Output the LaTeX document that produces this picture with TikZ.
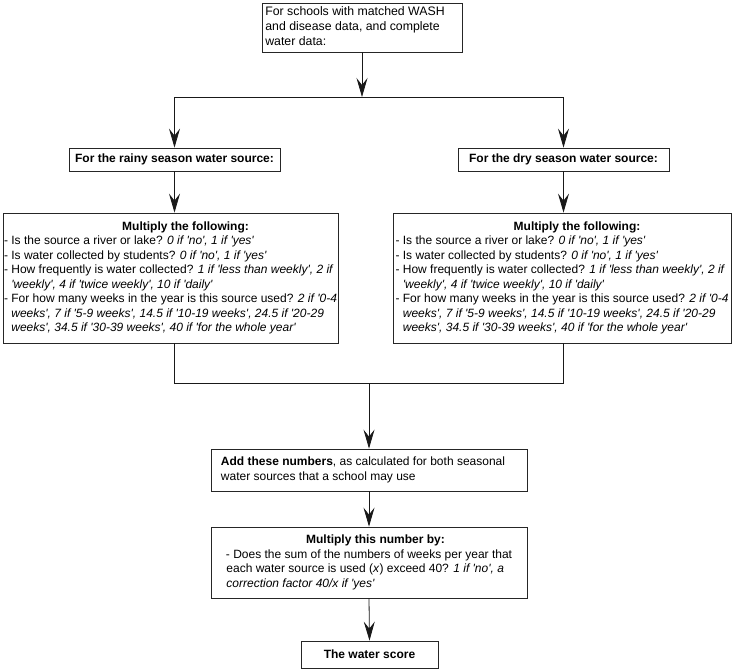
\documentclass[tikz,border=0pt]{standalone}
\usepackage{fontspec}
\setmainfont{Liberation Sans}[Ligatures=TeXOff]
\usetikzlibrary{arrows.meta}
\begin{document}
\begin{tikzpicture}[x=1pt,y=-1pt,
  box/.style={draw=black!85, line width=0.8pt, inner sep=0pt, font=\fontsize{12}{14.5}\selectfont},
  arr/.style={-{Stealth[length=19pt,width=11pt,inset=7pt]}, line width=0.8pt, draw=black!90},
  ln/.style={line width=0.8pt, draw=black!90}]
\useasboundingbox (0,0) rectangle (739,670);

\node[box, font=\fontsize{12.3}{14.7}\selectfont, minimum width=200pt, minimum height=49pt] (top) at (362,27.5)
  {\begin{tabular}{@{}l@{}}For schools with matched WASH\\and disease data, and complete\\water data:\end{tabular}\hspace*{14pt}};

\node[box, minimum width=211pt, minimum height=23pt] (rainy) at (174.5,159.5)
  {\bfseries For the rainy season water source:};
\node[box, minimum width=211pt, minimum height=23pt] (dry) at (563.5,159.5)
  {\bfseries For the dry season water source:};

\node[box, minimum width=335pt, minimum height=130pt] (lbig) at (170.5,278) {\begin{tabular}{@{}l@{}}
\multicolumn{1}{@{}c@{}}{\hspace*{30pt}\bfseries Multiply the following:}\\
- Is the source a river or lake? \textit{0 if 'no', 1 if 'yes'}\\
- Is water collected by students? \textit{0 if 'no', 1 if 'yes'}\\
- How frequently is water collected? \textit{1 if 'less than weekly', 2 if}\\
\hphantom{- }\textit{'weekly', 4 if 'twice weekly', 10 if 'daily'}\\
- For how many weeks in the year is this source used? \textit{2 if '0-4}\\
\hphantom{- }\textit{weeks', 7 if '5-9 weeks', 14.5 if '10-19 weeks', 24.5 if '20-29}\\
\hphantom{- }\textit{weeks', 34.5 if '30-39 weeks', 40 if 'for the whole year'}
\end{tabular}};

\node[box, minimum width=338pt, minimum height=130pt] (rbig) at (562,278) {\begin{tabular}{@{}l@{}}
\multicolumn{1}{@{}c@{}}{\hspace*{30pt}\bfseries Multiply the following:}\\
- Is the source a river or lake? \textit{0 if 'no', 1 if 'yes'}\\
- Is water collected by students? \textit{0 if 'no', 1 if 'yes'}\\
- How frequently is water collected? \textit{1 if 'less than weekly', 2 if}\\
\hphantom{- }\textit{'weekly', 4 if 'twice weekly', 10 if 'daily'}\\
- For how many weeks in the year is this source used? \textit{2 if '0-4}\\
\hphantom{- }\textit{weeks', 7 if '5-9 weeks', 14.5 if '10-19 weeks', 24.5 if '20-29}\\
\hphantom{- }\textit{weeks', 34.5 if '30-39 weeks', 40 if 'for the whole year'}
\end{tabular}};

\node[box, minimum width=316pt, minimum height=42pt] (add) at (369,470) {\begin{tabular}{@{}l@{}}
\textbf{Add these numbers}, as calculated for both seasonal\\
water sources that a school may use
\end{tabular}\hspace*{12pt}};

\node[box, minimum width=316pt, minimum height=71pt] (mult) at (369,562.5) {\begin{tabular}{@{}l@{}}
\multicolumn{1}{@{}c@{}}{\hspace*{13pt}\bfseries Multiply this number by:}\\
- Does the sum of the numbers of weeks per year that\\
\hspace*{0.5pt}each water source is used (\textit{x}) exceed 40? \textit{1 if 'no', a}\\
\hspace*{0.5pt}\textit{correction factor 40/x if 'yes'}
\end{tabular}};

\node[box, minimum width=137pt, minimum height=27pt] (score) at (369.5,654.5)
  {\bfseries The water score};

\coordinate (split) at (362,97);
\coordinate (merge) at (369,383);

\draw[arr] (top.south) -- (split);
\draw[ln] (rainy.north |- split) -- (dry.north |- split);
\draw[arr] (rainy.north |- split) -- (rainy.north);
\draw[arr] (dry.north |- split) -- (dry.north);
\draw[arr] (rainy.south) -- (rainy.south |- lbig.north);
\draw[arr] (dry.south) -- (dry.south |- rbig.north);
\draw[ln] (rainy.south |- lbig.south) -- (rainy.south |- merge) -- (dry.south |- merge) -- (dry.south |- rbig.south);
\draw[arr] (merge) -- (add.north);
\draw[arr] (add.south) -- (mult.north);
\draw[arr] (mult.south) -- (score.north);
\end{tikzpicture}
\end{document}
